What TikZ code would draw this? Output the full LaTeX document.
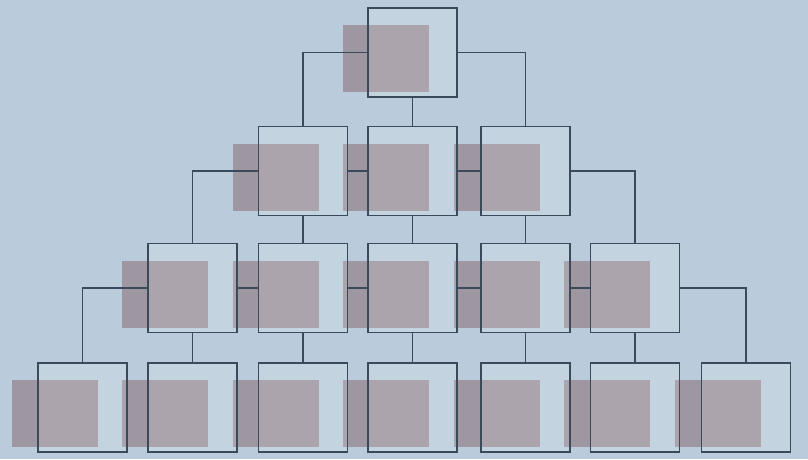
\documentclass[tikz,border=0pt]{standalone}
\definecolor{bgblue}{RGB}{186,204,220}
\definecolor{shadegray}{RGB}{158,150,160}
\definecolor{lineslate}{RGB}{58,74,90}
\begin{document}
\begin{tikzpicture}[x=1pt, y=-1pt,
  box/.style={draw=lineslate,line width=1.8pt,fill=white,fill opacity=0.14,minimum width=89pt,minimum height=89pt,inner sep=0pt},
  shade/.style={fill=shadegray,minimum width=86pt,minimum height=67pt,inner sep=0pt},
  link/.style={draw=lineslate,line width=1.8pt}]
\fill[bgblue] (0,0) rectangle (808,459);
\useasboundingbox (0,0) rectangle (808,459);
% shadows behind the boxes
\node[shade] (sa1) at (385.5,58.5) {};
\node[shade] (sb1) at (275.5,177) {}; \node[shade] (sb2) at (385.5,177) {}; \node[shade] (sb3) at (496.5,177) {};
\node[shade] (sc1) at (165,294) {}; \node[shade] (sc2) at (275.5,294) {}; \node[shade] (sc3) at (385.5,294) {};
\node[shade] (sc4) at (496.5,294) {}; \node[shade] (sc5) at (607,294) {};
\node[shade] (sd1) at (55,413.5) {}; \node[shade] (sd2) at (165,413.5) {}; \node[shade] (sd3) at (275.5,413.5) {};
\node[shade] (sd4) at (385.5,413.5) {}; \node[shade] (sd5) at (496.5,413.5) {}; \node[shade] (sd6) at (607,413.5) {};
\node[shade] (sd7) at (718,413.5) {};
% boxes
\node[box] (a1) at (412.5,52.5) {};
\node[box] (b1) at (303,171) {}; \node[box] (b2) at (412.5,171) {}; \node[box] (b3) at (525.5,171) {};
\node[box] (c1) at (192.5,288) {}; \node[box] (c2) at (303,288) {}; \node[box] (c3) at (412.5,288) {};
\node[box] (c4) at (525.5,288) {}; \node[box] (c5) at (635,288) {};
\node[box] (d1) at (82.5,407.5) {}; \node[box] (d2) at (192.5,407.5) {}; \node[box] (d3) at (303,407.5) {};
\node[box] (d4) at (412.5,407.5) {}; \node[box] (d5) at (525.5,407.5) {}; \node[box] (d6) at (635,407.5) {};
\node[box] (d7) at (746,407.5) {};
% top to second row
\draw[link] (a1.west) -| (b1.north); \draw[link] (a1.east) -| (b3.north); \draw[link] (a1)--(b2);
% second row
\draw[link] (b1)--(b2); \draw[link] (b2)--(b3);
\draw[link] (b1.west) -| (c1.north); \draw[link] (b3.east) -| (c5.north);
\draw[link] (b1)--(c2); \draw[link] (b2)--(c3); \draw[link] (b3)--(c4);
% third row
\draw[link] (c1)--(c2); \draw[link] (c2)--(c3); \draw[link] (c3)--(c4); \draw[link] (c4)--(c5);
\draw[link] (c1.west) -| (d1.north); \draw[link] (c5.east) -| (d7.north);
\draw[link] (c1)--(d2); \draw[link] (c2)--(d3); \draw[link] (c3)--(d4); \draw[link] (c4)--(d5); \draw[link] (c5)--(d6);
\end{tikzpicture}
\end{document}
